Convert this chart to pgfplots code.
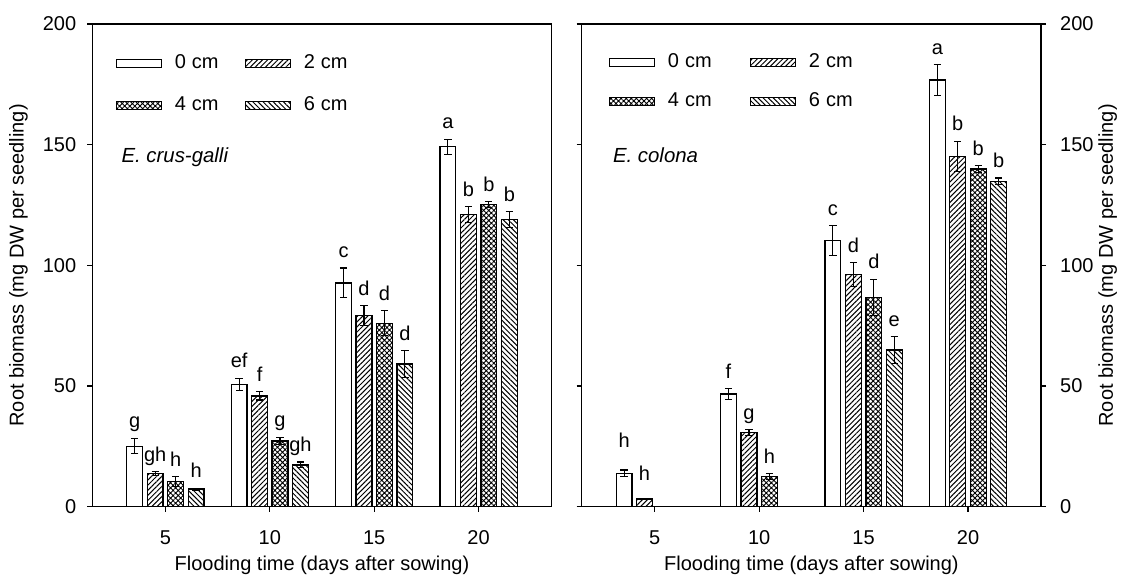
\documentclass[border=0pt]{standalone}
\usepackage{fontspec}
\setmainfont{Liberation Sans}
\usepackage{pgfplots}
\usepackage{pgfplotstable}
\pgfplotsset{compat=1.18}
\usetikzlibrary{patterns.meta}
\newcommand\tk{\fontsize{10}{12}\selectfont}

% ---- E. crus-galli ----
\pgfplotstableread{
x y e d lab
3.53 25.1 3.2 0 g
8.53 50.6 2.6 0 ef
13.53 92.7 6.2 0 c
18.53 149.2 3.1 0 a
}\Lzero
\pgfplotstableread{
x y e d lab
4.51 13.8 0.7 0 gh
9.51 45.9 1.7 0 f
14.51 79.1 4.1 0 d
19.51 121.0 3.3 0 b
}\Ltwo
\pgfplotstableread{
x y e d lab
5.49 10.5 2.0 0 h
10.49 27.2 1.6 0 g
15.49 76.0 5.2 0 d
20.49 125.2 1.2 0 b
}\Lfour
\pgfplotstableread{
x y e d lab
6.47 7.3 0.4 0 h
11.47 17.3 1.2 0 gh
16.47 59.1 5.6 0 d
21.47 119.0 3.3 0 b
}\Lsix
% ---- E. colona ----
\pgfplotstableread{
x y e d lab
3.53 13.8 1.4 5 h
8.53 46.7 2.2 0 f
13.53 110.3 6.2 0 c
18.53 176.8 6.3 0 a
}\Rzero
\pgfplotstableread{
x y e d lab
4.51 3.2 0.3 3 h
9.51 30.7 1.2 0 g
14.51 96.1 5.0 0 d
19.51 145.1 6.3 0 b
}\Rtwo
\pgfplotstableread{
x y e d lab
10.49 12.4 1.2 0 h
15.49 86.7 7.5 0 d
20.49 139.9 1.4 0 b
}\Rfour
\pgfplotstableread{
x y e d lab
16.47 64.9 5.6 0 e
21.47 134.8 1.4 0 b
}\Rsix

\pgfplotsset{
  common/.style={
    anchor=south west, scale only axis,
    width=229.7pt, height=241.35pt,
    xmin=1.5, xmax=23.5, ymin=0, ymax=200,
    xtick={5,10,15,20}, ytick={0,50,100,150,200},
    xtick pos=bottom, tick align=outside, major tick length=2.5pt,
    axis line style={line width=0.65pt, black},
    tick style={line width=0.65pt, black},
    ticklabel style={font=\tk},
    xticklabel style={yshift=-6.0pt},
    /pgf/number format/assume math mode=true,
    xlabel={Flooding time (days after sowing)},
    ylabel={Root biomass (mg DW per seedling)},
    label style={font=\tk},
    xlabel style={at={(axis description cs:0.5,-0.1208)}, anchor=center},
    clip=false,
  },
  mybar/.style={ybar, bar width=0.76, bar shift=0pt, draw=black, line width=0.6pt,
    error bars/.cd, y dir=both, y explicit,
    error bar style={line width=0.55pt, black},
    error mark options={rotate=90, black, line width=0.55pt, mark size=1.8pt},
    /pgfplots/.cd,
    legend image code/.code={\draw[##1, line width=0.6pt] (0pt,-2.1pt) rectangle (22.5pt,2.1pt);}
  },
  p0/.style={mybar, fill=white},
  p2/.style={mybar, fill=white, pattern={Lines[angle=45, distance=1.8pt, line width=0.5pt]}},
  p4/.style={mybar, fill=white, pattern={Hatch[angle=45, distance=1.8pt, line width=0.45pt]}},
  p6/.style={mybar, fill=white, pattern={Lines[angle=-45, distance=1.8pt, line width=0.5pt]}},
  lab/.style={only marks, mark=*, mark size=0pt,
    mark options={draw opacity=0, fill opacity=0}, forget plot,
    nodes near coords, point meta=explicit symbolic,
    nodes near coords align={anchor=base},
    every node near coord/.append style={yshift=5.2pt, font=\tk, black, opacity=1}},
}

\begin{document}
\begin{tikzpicture}
\path[use as bounding box] (0,0) rectangle (562pt,288.5pt);
% ================= left panel =================
\begin{axis}[common, at={(46.15pt,35.15pt)},
  ytick pos=left,
  yticklabel style={xshift=-2.0pt},
  ylabel style={at={(axis description cs:-0.161,0.5)}, anchor=center},
  legend columns=2,
  legend style={draw=none, fill=none, at={(axis description cs:0.05,0.945)}, anchor=north west,
    font=\tk, inner sep=0pt, row sep=8.5pt,
    /tikz/every odd column/.append style={column sep=4.5pt},
    /tikz/every even column/.append style={column sep=11pt}},
  legend cell align=left,
]
\addplot[p0] table[x=x, y=y, y error=e] {\Lzero};
\addlegendentry{0\hspace{0.3em}cm}
\addplot[p2] table[x=x, y=y, y error=e] {\Ltwo};
\addlegendentry{2\hspace{0.3em}cm}
\addplot[p4] table[x=x, y=y, y error=e] {\Lfour};
\addlegendentry{4\hspace{0.3em}cm}
\addplot[p6] table[x=x, y=y, y error=e] {\Lsix};
\addlegendentry{6\hspace{0.3em}cm}
\addplot[lab] table[x=x, y expr=\thisrow{y}+\thisrow{e}+\thisrow{d}, meta=lab] {\Lzero};
\addplot[lab] table[x=x, y expr=\thisrow{y}+\thisrow{e}+\thisrow{d}, meta=lab] {\Ltwo};
\addplot[lab] table[x=x, y expr=\thisrow{y}+\thisrow{e}+\thisrow{d}, meta=lab] {\Lfour};
\addplot[lab] table[x=x, y expr=\thisrow{y}+\thisrow{e}+\thisrow{d}, meta=lab] {\Lsix};
\node[anchor=west, font=\fontsize{10.2}{12}\selectfont\itshape, inner sep=0pt] at (axis cs:2.88,145) {E. crus-galli};
\end{axis}
% ================= right panel =================
\begin{axis}[common, at={(290.85pt,35.15pt)},
  ytick pos=both, yticklabel pos=right,
  yticklabel style={xshift=3.5pt},
  ylabel style={at={(axis description cs:1.145,0.5)}, anchor=center},
  legend columns=2,
  legend style={draw=none, fill=none, at={(axis description cs:0.058,0.947)}, anchor=north west,
    font=\tk, inner sep=0pt, row sep=7pt,
    /tikz/every odd column/.append style={column sep=4.5pt},
    /tikz/every even column/.append style={column sep=17pt}},
  legend cell align=left,
]
\addplot[p0] table[x=x, y=y, y error=e] {\Rzero};
\addlegendentry{0\hspace{0.3em}cm}
\addplot[p2] table[x=x, y=y, y error=e] {\Rtwo};
\addlegendentry{2\hspace{0.3em}cm}
\addplot[p4] table[x=x, y=y, y error=e] {\Rfour};
\addlegendentry{4\hspace{0.3em}cm}
\addplot[p6] table[x=x, y=y, y error=e] {\Rsix};
\addlegendentry{6\hspace{0.3em}cm}
\addplot[lab] table[x=x, y expr=\thisrow{y}+\thisrow{e}+\thisrow{d}, meta=lab] {\Rzero};
\addplot[lab] table[x=x, y expr=\thisrow{y}+\thisrow{e}+\thisrow{d}, meta=lab] {\Rtwo};
\addplot[lab] table[x=x, y expr=\thisrow{y}+\thisrow{e}+\thisrow{d}, meta=lab] {\Rfour};
\addplot[lab] table[x=x, y expr=\thisrow{y}+\thisrow{e}+\thisrow{d}, meta=lab] {\Rsix};
\node[anchor=west, font=\fontsize{10.2}{12}\selectfont\itshape, inner sep=0pt] at (axis cs:2.98,145.7) {E. colona};
\end{axis}
\end{tikzpicture}
\end{document}
